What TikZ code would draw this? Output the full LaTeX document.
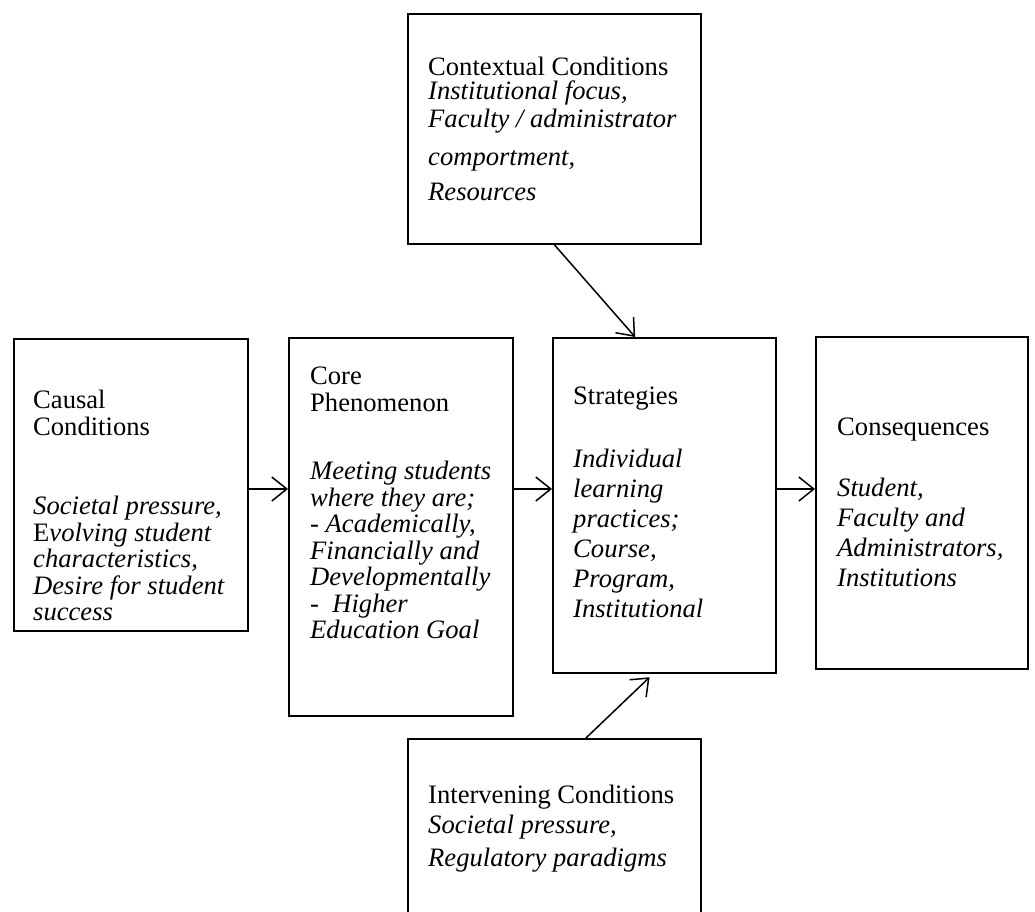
\documentclass[tikz,border=0pt]{standalone}
\usepackage{fontspec}
\setmainfont{Liberation Serif}
\usetikzlibrary{arrows.meta,calc}

\tikzset{
  box/.style={draw, line width=1.8pt, inner sep=0pt, anchor=north west},
  txt/.style={anchor=north west, inner sep=0pt, align=left},
  arr/.style={line width=1.5pt, -{Straight Barb[length=15pt, width=24pt, line width=1.5pt]}}
}
\newcommand{\bigfont}{\fontsize{26.6}{30}\selectfont}
\newcommand{\tightfont}{\fontsize{26.6}{26.5}\selectfont}

\begin{document}
\begin{tikzpicture}[x=1pt, y=-1pt]
  \useasboundingbox (0,0) rectangle (1035,911);
  \clip (0,0) rectangle (1035,911);
  % boxes
  \node[box, minimum width=293pt, minimum height=230pt] (ctx) at (407,13) {};
  \node[box, minimum width=234pt, minimum height=292pt] (cau) at (13,338) {};
  \node[box, minimum width=224pt, minimum height=378pt] (core) at (288,337) {};
  \node[box, minimum width=223pt, minimum height=335pt] (strat) at (552,337) {};
  \node[box, minimum width=212pt, minimum height=332pt] (cons) at (815,336) {};
  \node[box, minimum width=293pt, minimum height=190pt] (intv) at (407,738) {};
  % texts
  \node[txt, font=\bigfont] (ctxtxt) at (428,57)
    {Contextual Conditions\\[-6pt] \textit{Institutional focus,}\\[-2pt]
     \textit{Faculty / administrator}\\[8pt] \textit{comportment,}\\[5pt] \textit{Resources}};
  \node[txt, font=\tightfont] (cautxt) at (33,390)
    {Causal\\ Conditions\\[53pt] \textit{Societal pressure,}\\ E\textit{volving student}\\
     \textit{characteristics,}\\ \textit{Desire for student}\\ \textit{success}};
  \node[txt, font=\tightfont] (coretxt) at (310,367)
    {Core\\ Phenomenon\\[42pt] \textit{Meeting students}\\ \textit{where they are;}\\
     \textit{- Academically,}\\ \textit{Financially and}\\ \textit{Developmentally}\\
     \textit{-\ \ Higher}\\ \textit{Education Goal}};
  \node[txt, font=\bigfont] (strattxt) at (573,387)
    {Strategies\\[33pt] \textit{Individual}\\ \textit{learning}\\ \textit{practices;}\\
     \textit{Course,}\\ \textit{Program,}\\ \textit{Institutional}};
  \node[txt, font=\bigfont] (constxt) at (837,418)
    {Consequences\\[31pt] \textit{Student,}\\ \textit{Faculty and}\\
     \textit{Administrators,}\\ \textit{Institutions}};
  \node[txt, font=\bigfont] (intvtxt) at (428,785)
    {Intervening Conditions\\ \textit{Societal pressure,}\\[3pt] \textit{Regulatory paradigms}};
  % arrows
  \coordinate (flow) at (0,489);
  \draw[arr] (cau.east |- flow) -- (core.west |- flow);
  \draw[arr] (core.east |- flow) -- (strat.west |- flow);
  \draw[arr] (strat.east |- flow) -- (cons.west |- flow);
  \draw[arr] (ctx.south) -- ($(strat.north west)!0.37!(strat.north east)$);
  \draw[arr, shorten >=5pt] ($(intv.north west)!0.607!(intv.north east)$)
    -- ($(strat.south west)!0.45!(strat.south east)$);
\end{tikzpicture}
\end{document}
